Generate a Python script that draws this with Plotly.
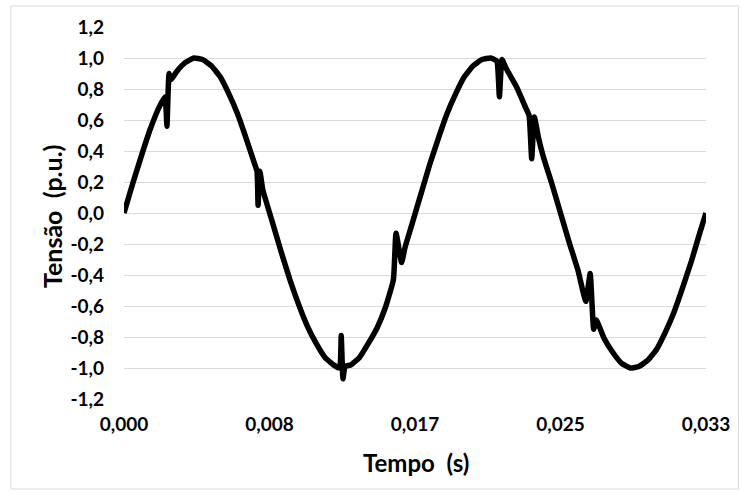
import plotly.graph_objects as go

# Time (ms) and voltage (p.u.) samples of the notched waveform
tempo_ms = [
    0.0, 0.5, 1.0, 1.5, 2.0, 2.35, 2.46, 2.58, 2.70, 3.0, 3.5, 4.0, 4.5, 5.0,
    5.5, 6.0, 6.5, 7.0, 7.5, 7.62, 7.68, 7.78, 7.95, 8.5, 9.0, 9.5, 10.0,
    10.5, 11.0, 11.5, 12.0, 12.35, 12.44, 12.54, 12.66, 13.0, 13.5, 14.0,
    14.5, 15.0, 15.43, 15.58, 15.90, 16.1, 16.5, 17.0, 17.5, 18.0, 18.5,
    19.0, 19.5, 20.0, 20.5, 21.0, 21.35, 21.50, 21.65, 21.9, 22.5, 23.0,
    23.2, 23.35, 23.50, 23.75, 24.0, 24.5, 25.0, 25.5, 26.0, 26.45, 26.70,
    26.90, 27.05, 27.5, 28.0, 28.5, 29.0, 29.5, 30.0, 30.5, 31.0, 31.5,
    32.0, 32.5, 33.0, 33.33,
]
tensao_pu = [
    0.00, 0.19, 0.37, 0.54, 0.68, 0.75, 0.56, 0.90, 0.86, 0.91, 0.97, 1.00, 0.99, 0.95,
    0.88, 0.77, 0.64, 0.48, 0.31, 0.27, 0.05, 0.27, 0.15, -0.06, -0.25, -0.43, -0.59,
    -0.73, -0.84, -0.93, -0.98, -1.00, -0.79, -1.07, -0.99, -0.98, -0.93, -0.84,
    -0.74, -0.60, -0.43, -0.13, -0.32, -0.22, -0.07, 0.12, 0.31, 0.48, 0.64,
    0.77, 0.88, 0.95, 0.99, 1.00, 0.98, 0.75, 0.99, 0.93, 0.81, 0.68,
    0.63, 0.35, 0.62, 0.48, 0.37, 0.19, 0.00, -0.19, -0.37, -0.57, -0.39,
    -0.75, -0.69, -0.81, -0.90, -0.97, -1.00, -0.99, -0.95, -0.88, -0.77, -0.64,
    -0.48, -0.31, -0.12, 0.00,
]

x_ticks = [0.0, 1 / 120, 2 / 120, 3 / 120, 4 / 120]
x_labels = ["0,000", "0,008", "0,017", "0,025", "0,033"]
y_ticks = [-1.2, -1.0, -0.8, -0.6, -0.4, -0.2, 0.0, 0.2, 0.4, 0.6, 0.8, 1.0, 1.2]
y_labels = ["-1,2", "-1,0", "-0,8", "-0,6", "-0,4", "-0,2", "0,0",
            "0,2", "0,4", "0,6", "0,8", "1,0", "1,2"]

FONT = "Lato"
W, H = 740, 495
L, R, T, B = 124, 34, 27, 96
pw, ph = W - L - R, H - T - B


def px_x(px):
    """Pixel column -> paper x."""
    return (px - L) / pw


def px_y(py):
    """Pixel row -> paper y."""
    return (T + ph - py) / ph


fig = go.Figure(
    go.Scatter(
        x=[t / 1000 for t in tempo_ms],
        y=tensao_pu,
        mode="lines",
        line=dict(color="black", width=5.5, shape="spline", smoothing=0.4),
        hoverinfo="skip",
    )
)

title_font = dict(family=FONT, size=25, color="black", weight="bold")

fig.update_layout(
    width=W,
    height=H,
    margin=dict(l=L, r=R, t=T, b=B),
    paper_bgcolor="white",
    plot_bgcolor="white",
    showlegend=False,
    font=dict(family=FONT, color="black"),
    xaxis=dict(
        range=[0, 4 / 120],
        tickvals=x_ticks,
        ticktext=x_labels,
        tickfont=dict(family=FONT, size=19, weight="bold", color="black"),
        ticklabelstandoff=12,
        showgrid=False,
        zeroline=False,
        showline=False,
        ticks="",
        automargin=False,
    ),
    yaxis=dict(
        range=[-1.2, 1.2],
        tickvals=y_ticks,
        ticktext=y_labels,
        tickfont=dict(family=FONT, size=19, weight="bold", color="black"),
        ticklabelstandoff=19,
        showgrid=True,
        gridcolor="#d9d9d9",
        gridwidth=1,
        zeroline=False,
        showline=False,
        ticks="",
        automargin=False,
    ),
    annotations=[
        dict(text="Tempo  (s)", xref="paper", yref="paper",
             x=px_x(416), y=px_y(462), xanchor="center", yanchor="middle",
             showarrow=False, font=dict(title_font, size=24)),
        dict(text="Tensão  (p.u.)", xref="paper", yref="paper",
             x=px_x(52), y=px_y(217), xanchor="center", yanchor="middle",
             textangle=-90, showarrow=False, font=title_font),
    ],
    shapes=[
        dict(
            type="rect",
            xref="paper",
            yref="paper",
            x0=px_x(11),
            x1=px_x(738.5),
            y0=px_y(489),
            y1=px_y(6),
            line=dict(color="#d9d9d9", width=1),
            layer="below",
        )
    ],
)

fig.write_html("out.html")
